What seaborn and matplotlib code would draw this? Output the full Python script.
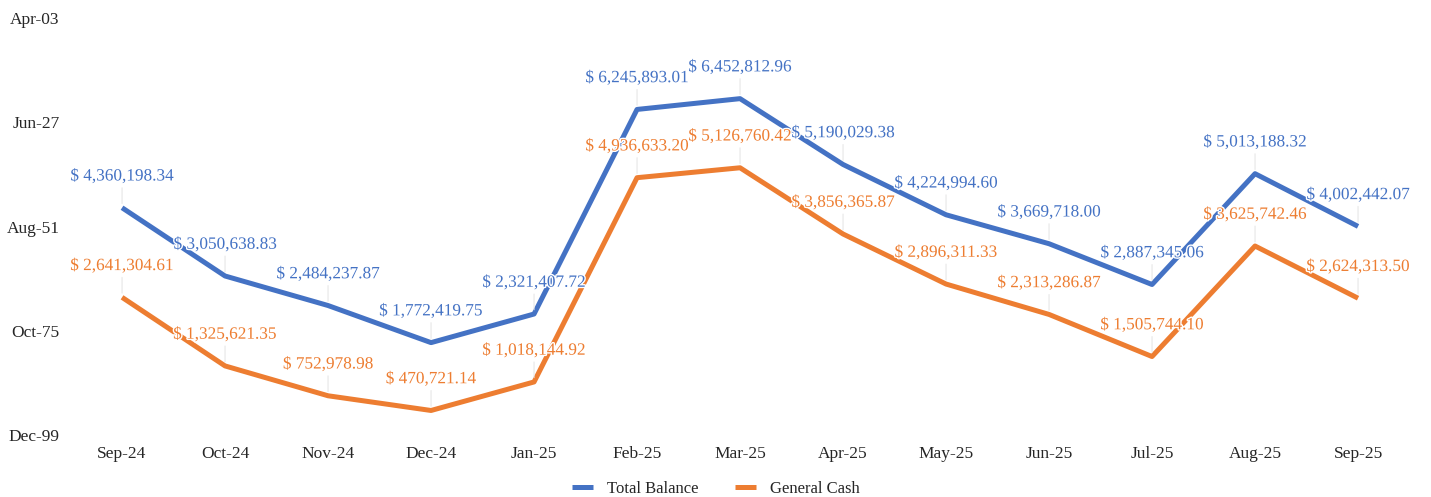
import pandas as pd
import numpy as np
import matplotlib
matplotlib.use("Agg")
import matplotlib.pyplot as plt
import matplotlib.patheffects as pe
import seaborn as sns

months = ["Sep-24", "Oct-24", "Nov-24", "Dec-24", "Jan-25", "Feb-25", "Mar-25",
          "Apr-25", "May-25", "Jun-25", "Jul-25", "Aug-25", "Sep-25"]
total_balance = [4360198.34, 3050638.83, 2484237.87, 1772419.75, 2321407.72, 6245893.01,
                 6452812.96, 5190029.38, 4224994.60, 3669718.00, 2887345.06, 5013188.32,
                 4002442.07]
general_cash = [2641304.61, 1325621.35, 752978.98, 470721.14, 1018144.92, 4936633.20,
                5126760.42, 3856365.87, 2896311.33, 2313286.87, 1505744.10, 3625742.46,
                2624313.50]
y_ticks = [0, 2000000, 4000000, 6000000, 8000000]
y_labels = ["Dec-99", "Oct-75", "Aug-51", "Jun-27", "Apr-03"]

series_names = ["Total Balance", "General Cash"]
colors = ["#4472C4", "#ED7D31"]

df = pd.DataFrame({
    "pos": list(range(len(months))) * 2,
    "value": total_balance + general_cash,
    "series": [series_names[0]] * len(months) + [series_names[1]] * len(months),
})

sns.set_style("white")
plt.rcParams["font.family"] = ["Liberation Serif", "DejaVu Serif"]

fig = plt.figure(figsize=(14.31, 4.97), dpi=100)
ax = fig.add_axes([0.0493, 0.1247, 0.9357, 0.8391])

sns.lineplot(data=df, x="pos", y="value", hue="series", palette=colors,
             linewidth=3.6, ax=ax, solid_capstyle="butt")

# data labels with leader lines, white halo so lines break around glyphs
halo = [pe.withStroke(linewidth=2, foreground="white")]
for name, col in zip(series_names, colors):
    sub = df[df["series"] == name]
    for x, v in zip(sub["pos"], sub["value"]):
        ax.annotate("$ {:,.2f}".format(v), xy=(x, v), xytext=(0, 22.5),
                    textcoords="offset points", ha="center", va="center",
                    color=col, fontsize=12.4, path_effects=halo,
                    arrowprops=dict(arrowstyle="-", color="#e3e3e3", lw=0.7,
                                    shrinkA=0, shrinkB=3))

ax.set_xlim(-0.5, len(months) - 0.5)
ax.set_ylim(0, 8000000)
ax.set_xticks(range(len(months)))
ax.set_xticklabels(months, fontsize=12.5)
ax.set_yticks(y_ticks)
ax.set_yticklabels(y_labels, fontsize=12.5)
ax.tick_params(axis="both", length=0)
ax.tick_params(axis="x", pad=8)
ax.tick_params(axis="y", pad=8)
ax.set_xlabel("")
ax.set_ylabel("")
sns.despine(ax=ax, left=True, bottom=True)

ax.legend(loc="center", bbox_to_anchor=(0.5, 1 - 489 / 497), bbox_transform=fig.transFigure,
          ncol=2, frameon=False, fontsize=12, handlelength=1.3, columnspacing=2.2)

fig.savefig("out.png", dpi=100)
